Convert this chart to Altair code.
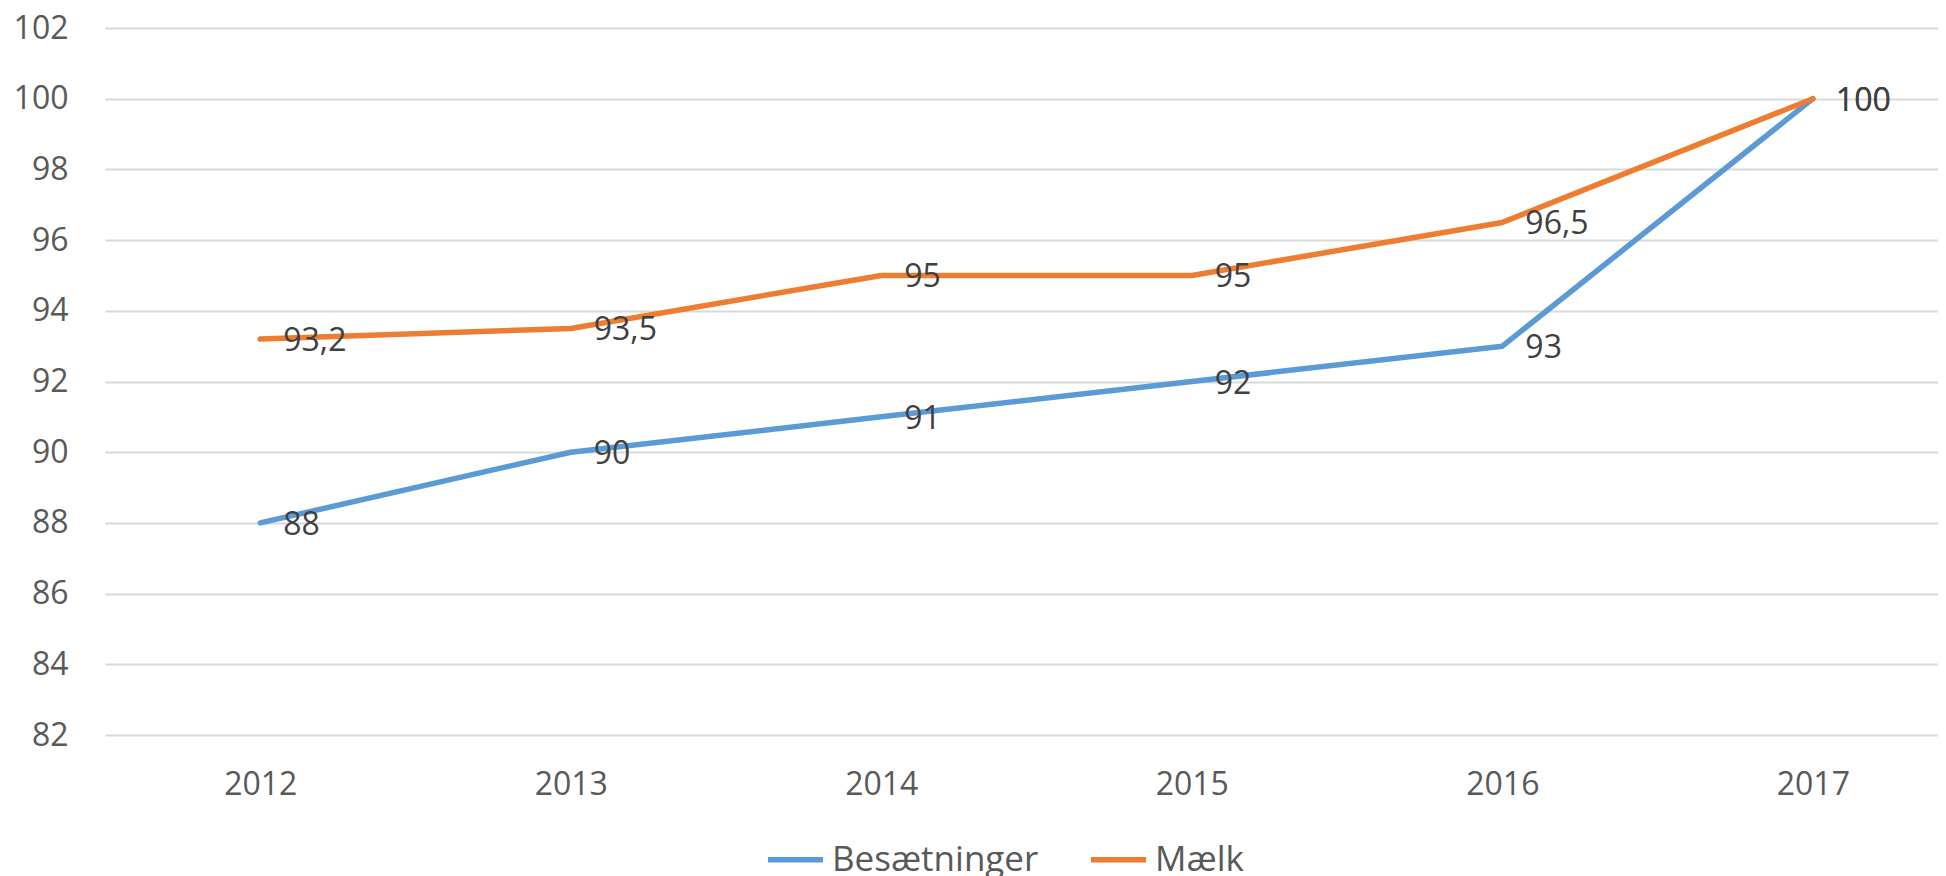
import altair as alt
import pandas as pd

years = [2012, 2013, 2014, 2015, 2016, 2017]
besaetninger = [88, 90, 91, 92, 93, 100]
maelk = [93.2, 93.5, 95, 95, 96.5, 100]
series_names = ["Besætninger", "Mælk"]
series_colors = ["#5B9BD5", "#ED7D31"]
y_ticks = list(range(82, 103, 2))

rows = []
for name, vals in zip(series_names, [besaetninger, maelk]):
    for yr, v in zip(years, vals):
        rows.append({"year": yr, "value": v, "serie": name})
df = pd.DataFrame(rows)

FONT = "Open Sans"

x_enc = alt.X(
    "year:Q",
    scale=alt.Scale(domain=[2011.5, 2017.403], nice=False, zero=False),
    axis=alt.Axis(
        values=years, format="d", title=None, grid=False, ticks=False, domain=False,
        labelFont=FONT, labelFontSize=32, labelColor="#595959", labelPadding=34,
    ),
)
y_enc = alt.Y(
    "value:Q",
    scale=alt.Scale(domain=[82, 102], nice=False, zero=False),
    axis=alt.Axis(
        values=y_ticks, title=None, grid=True, gridColor="#D9D9D9", gridWidth=2,
        ticks=False, domain=False, labelFont=FONT, labelFontSize=32,
        labelColor="#595959", labelPadding=37,
    ),
)

base = alt.Chart(df)

lines = base.mark_line(strokeWidth=5.5, strokeCap="round", strokeJoin="round").encode(
    x=x_enc,
    y=y_enc,
    color=alt.Color(
        "serie:N",
        scale=alt.Scale(domain=series_names, range=series_colors),
        sort=series_names,
        legend=alt.Legend(
            title=None, orient="none", legendX=660, legendY=801, direction="horizontal",
            symbolType="stroke", symbolStrokeWidth=5.5, symbolSize=3025,
            labelFont=FONT, labelFontSize=35, labelColor="#595959", labelOffset=6,
            labelLimit=500, columnPadding=41,
        ),
    ),
    order=alt.Order("serie:N"),
)

labels = base.transform_calculate(
    label="replace(toString(datum.value), '.', ',')"
).mark_text(
    align="left", baseline="middle", dx=23, dy=2, font=FONT, fontSize=32, color="#404040"
).encode(
    x=alt.X("year:Q"),
    y=alt.Y("value:Q"),
    text="label:N",
)

chart = alt.layer(lines, labels).properties(
    width=1833,
    height=707,
    autosize=alt.AutoSizeParams(type="none"),
    padding={"left": 97, "top": 20, "right": 0, "bottom": 142},
).configure(background="white").configure_view(stroke=None)

chart.save("out.html", embed_options={"renderer": "svg", "actions": False})
